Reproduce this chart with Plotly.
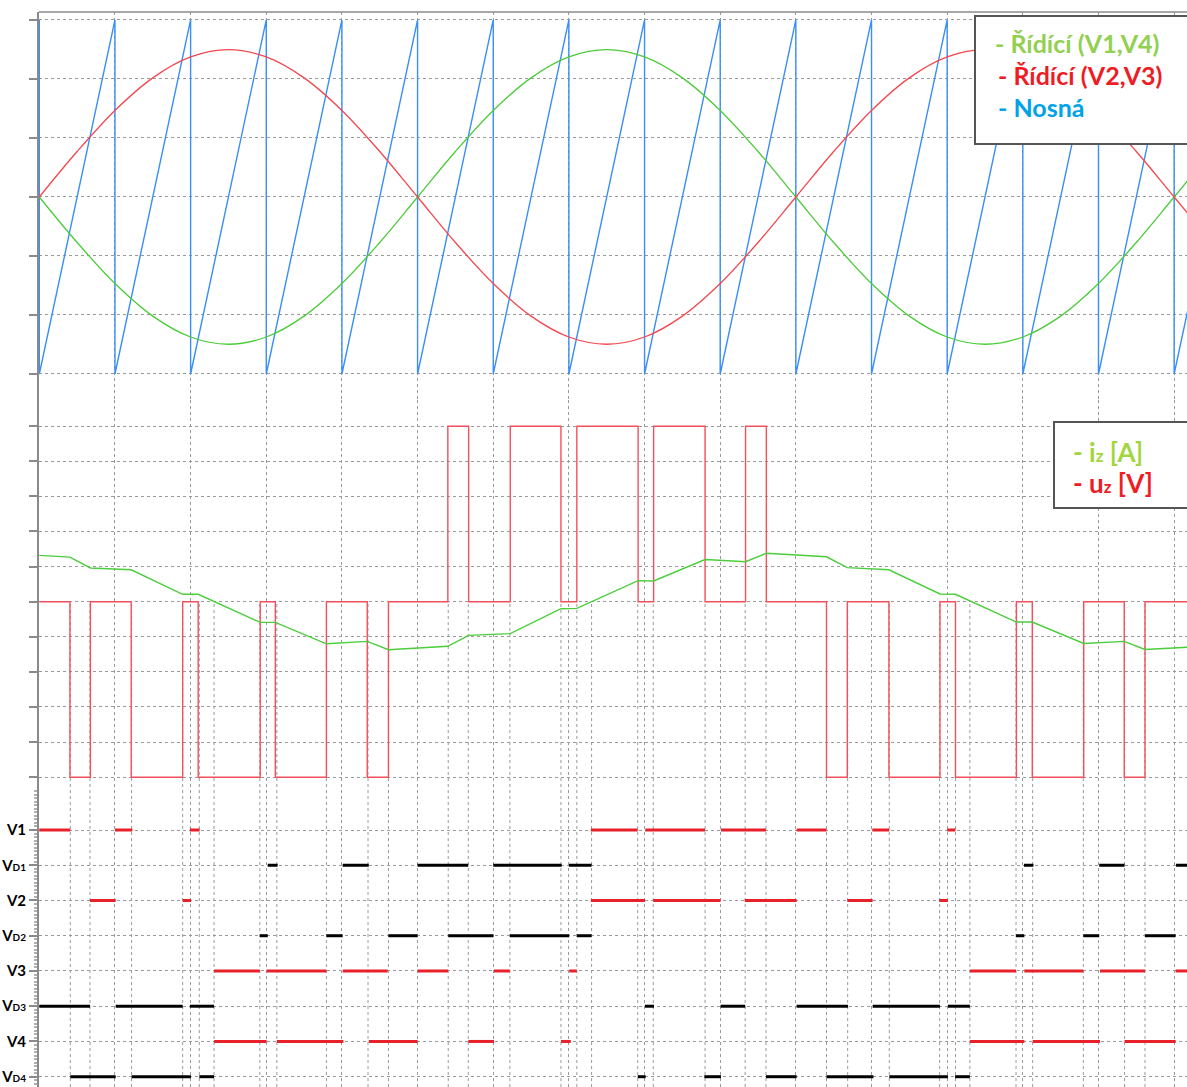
import plotly.graph_objects as go

# ---------------- data (time in ms) ----------------
# control (modulating) signals, sampled every 1 ms
t_ctrl = [0, 1, 2, 3, 4, 5, 6, 7, 8, 9, 10, 11, 12, 13, 14, 15, 16, 17, 18, 19,
          20, 21, 22, 23, 24, 25, 26, 27, 28, 29, 30, 31]
ctrl_v23 = [0.0, 0.257, 0.489, 0.673, 0.791, 0.832, 0.791, 0.673, 0.489, 0.257,
            0.0, -0.257, -0.489, -0.673, -0.791, -0.832, -0.791, -0.673, -0.489, -0.257,
            0.0, 0.257, 0.489, 0.673, 0.791, 0.832, 0.791, 0.673, 0.489, 0.257,
            0.0, -0.257]
ctrl_v14 = [0.0, -0.257, -0.489, -0.673, -0.791, -0.832, -0.791, -0.673, -0.489, -0.257,
            0.0, 0.257, 0.489, 0.673, 0.791, 0.832, 0.791, 0.673, 0.489, 0.257,
            0.0, -0.257, -0.489, -0.673, -0.791, -0.832, -0.791, -0.673, -0.489, -0.257,
            0.0, 0.257]

# sawtooth carrier: resets every 2 ms
carrier_resets = [0, 2, 4, 6, 8, 10, 12, 14, 16, 18, 20, 22, 24, 26, 28, 30, 32]
carrier_low = -1.0
carrier_high = 1.0

# load voltage u_z (step levels after each switching instant)
uz_t = [0, 0.81, 1.35, 2.43, 3.79, 4.20, 5.84, 6.24, 7.59, 8.67, 9.23, 10.80, 11.35,
        12.45, 13.79, 14.21, 15.83, 16.24, 17.60, 18.67, 19.22, 20.81, 21.36, 22.46,
        23.81, 24.22, 25.83, 26.25, 27.61, 28.68, 29.23, 30.40]
uz_v = [0, -5, 0, -5, 0, -5, 0, -5, 0, -5, 0, 5, 0, 5, 0, 5, 0, 5, 0, 5, 0,
        -5, 0, -5, 0, -5, 0, -5, 0, -5, 0, 0]

# load current i_z
iz_t = [0, 0.81, 1.35, 2.43, 3.79, 4.20, 5.84, 6.24, 7.59, 8.67, 9.23, 10.80, 11.35,
        12.45, 13.79, 14.21, 15.83, 16.24, 17.60, 18.67, 19.22, 20.81, 21.36, 22.46,
        23.81, 24.22, 25.83, 26.25, 27.61, 28.68, 29.23, 30.34]
iz_v = [1.32, 1.27, 0.96, 0.91, 0.21, 0.21, -0.59, -0.59, -1.20, -1.13, -1.37, -1.27,
        -0.96, -0.91, -0.20, -0.19, 0.60, 0.59, 1.20, 1.14, 1.38, 1.28, 0.97, 0.91,
        0.22, 0.21, -0.58, -0.58, -1.19, -1.13, -1.36, -1.30]

# conduction intervals [start, end] of each switch / diode
v1_on = [[0, 0.82], [2.00, 2.46], [3.98, 4.24], [14.58, 15.82], [16.02, 17.60],
         [18.02, 19.21], [20.02, 20.81], [22.02, 22.47], [24.00, 24.22]]
vd1_on = [[6.04, 6.30], [8.02, 8.71], [10.00, 11.34], [12.00, 13.81], [14.00, 14.60],
          [26.03, 26.28], [28.02, 28.69], [30.05, 30.40]]
v2_on = [[1.34, 2.02], [3.79, 4.01], [14.58, 16.01], [16.23, 18.01], [18.65, 20.02],
         [21.36, 22.03], [23.79, 24.02]]
vd2_on = [[5.83, 6.04], [7.59, 8.02], [9.23, 10.00], [10.81, 12.00], [12.44, 14.01],
          [14.21, 14.60], [25.82, 26.04], [27.60, 28.02], [29.23, 30.04]]
v3_on = [[4.62, 5.83], [6.01, 7.59], [8.02, 9.21], [10.00, 10.81], [12.02, 12.44],
         [14.01, 14.21], [24.60, 25.82], [26.04, 27.60], [28.04, 29.23], [30.04, 30.40]]
vd3_on = [[0, 1.34], [2.02, 3.79], [3.98, 4.62], [16.01, 16.25], [18.01, 18.66],
          [20.02, 21.38], [22.03, 23.81], [24.02, 24.60]]
v4_on = [[4.62, 6.01], [6.28, 8.04], [8.71, 10.00], [11.34, 12.02], [13.79, 14.05],
         [24.60, 26.04], [26.26, 28.04], [28.69, 30.04]]
vd4_on = [[0.82, 2.02], [2.44, 4.01], [4.23, 4.62], [15.82, 16.03], [17.58, 18.02],
          [19.21, 20.02], [20.81, 22.05], [22.47, 24.02], [24.21, 24.60]]

SMALL = '<span style="font-size:10px">'
row_labels = ["<b>V1</b>", f"<b>V{SMALL}D1</span></b>", "<b>V2</b>",
              f"<b>V{SMALL}D2</span></b>", "<b>V3</b>", f"<b>V{SMALL}D3</span></b>",
              "<b>V4</b>", f"<b>V{SMALL}D4</span></b>"]
row_levels = [8, 7, 6, 5, 4, 3, 2, 1]

# switching instants marked in the lower panels
switch_times = [0.82, 1.34, 2.44, 3.79, 4.23, 4.62, 5.83, 6.28, 7.59, 8.69, 9.23,
                10.81, 11.34, 12.44, 13.79, 14.21, 14.60, 15.82, 16.23, 17.60, 18.66,
                19.21, 20.81, 21.37, 22.47, 23.80, 24.22, 24.60, 25.82, 26.26, 27.60,
                28.69, 29.23]

# ---------------- styling ----------------
W, H = 1187, 1087
ML, MT = 39, 12
PW, PH = W - ML, H - MT
GRID = "#9a9a9a"
AXIS = "#8a8a8a"
X_RANGE = [-0.008, 30.34]


def px_x(px):
    return (px - ML) / PW


def px_y(py):
    return (H - py) / PH


fig = go.Figure()

# top panel: carrier + control signals
car_x, car_y = [], []
for r in carrier_resets:
    car_x += [r, r]
    car_y += [carrier_high, carrier_low]

fig.add_trace(go.Scatter(x=car_x, y=car_y, mode="lines", xaxis="x", yaxis="y",
                         line=dict(color="#3a8ef6", width=1.4), hoverinfo="skip"))
fig.add_trace(go.Scatter(x=t_ctrl, y=ctrl_v14, mode="lines", xaxis="x", yaxis="y",
                         line=dict(color="#4ccb3a", width=1.3, shape="spline"),
                         hoverinfo="skip"))
fig.add_trace(go.Scatter(x=t_ctrl, y=ctrl_v23, mode="lines", xaxis="x", yaxis="y",
                         line=dict(color="#f2474f", width=1.3, shape="spline"),
                         hoverinfo="skip"))

# middle panel: load voltage and current
fig.add_trace(go.Scatter(x=uz_t, y=uz_v, mode="lines", xaxis="x2", yaxis="y2",
                         line=dict(color="#f2505c", width=1.4, shape="hv"),
                         hoverinfo="skip"))
fig.add_trace(go.Scatter(x=iz_t, y=iz_v, mode="lines", xaxis="x2", yaxis="y2",
                         line=dict(color="#4ccd3c", width=1.4), hoverinfo="skip"))

# bottom panel: conduction intervals
rows = [(v1_on, "#e8202a"), (vd1_on, "#000000"), (v2_on, "#e8202a"), (vd2_on, "#000000"),
        (v3_on, "#e8202a"), (vd3_on, "#000000"), (v4_on, "#e8202a"), (vd4_on, "#000000")]
for (intervals, color), level in zip(rows, row_levels):
    xs, ys = [], []
    for a, b in intervals:
        xs += [a, b, None]
        ys += [level, level, None]
    fig.add_trace(go.Scatter(x=xs, y=ys, mode="lines", xaxis="x3", yaxis="y3",
                             line=dict(color=color, width=3), hoverinfo="skip"))

# vertical markers at switching instants (from u_z = 0 level downwards)
shapes = []
y_zero_mid = px_y(601.7)
for ts in switch_times:
    shapes.append(dict(type="line", xref="x3", yref="paper", x0=ts, x1=ts,
                       y0=0, y1=y_zero_mid, layer="below",
                       line=dict(color=GRID, width=1, dash="dot")))

# top frame line
shapes.append(dict(type="line", xref="paper", yref="paper", x0=0, x1=1, y0=1, y1=1,
                   line=dict(color=AXIS, width=1.5), layer="above"))

# legend boxes
shapes.append(dict(type="rect", xref="paper", yref="paper",
                   x0=px_x(975), x1=px_x(1190), y0=px_y(144), y1=px_y(16),
                   fillcolor="white", line=dict(color="#555555", width=2), layer="above"))
shapes.append(dict(type="rect", xref="paper", yref="paper",
                   x0=px_x(1054), x1=px_x(1190), y0=px_y(508), y1=px_y(422),
                   fillcolor="white", line=dict(color="#555555", width=2), layer="above"))

LEG_FONT = "Lato, 'Open Sans', sans-serif"
SUBZ = '<span style="font-size:17px">z</span>'
annotations = [
    dict(text="<b>- Řídící (V1,V4)</b>", x=px_x(993), y=px_y(43), color="#92d050", size=25),
    dict(text="<b>- Řídící (V2,V3)</b>", x=px_x(996), y=px_y(75), color="#ee1c25", size=25),
    dict(text="<b>- Nosná</b>", x=px_x(996), y=px_y(107), color="#00a2e8", size=25),
    dict(text=f"<b>- i{SUBZ} [A]</b>", x=px_x(1071), y=px_y(452), color="#a2d63c", size=26),
    dict(text=f"<b>- u{SUBZ} [V]</b>", x=px_x(1071), y=px_y(483), color="#ee1c25", size=26),
]
ann = []
for a in annotations:
    ann.append(dict(text=a["text"], x=a["x"], y=a["y"], xref="paper", yref="paper",
                    xanchor="left", yanchor="middle", showarrow=False,
                    font=dict(family=LEG_FONT, size=a["size"], color=a["color"])))

xaxis_common = dict(range=X_RANGE, showgrid=True, gridcolor=GRID, griddash="dot",
                    gridwidth=1, tick0=0, dtick=2, showticklabels=False, ticks="",
                    zeroline=False, showline=False, automargin=False, fixedrange=True)
yaxis_common = dict(showgrid=True, gridcolor=GRID, griddash="dot", gridwidth=1,
                    ticks="outside", ticklen=8, tickcolor=AXIS, tickwidth=1.5,
                    showline=True, linecolor=AXIS, linewidth=2, zeroline=False,
                    automargin=False, fixedrange=True)

fig.update_layout(
    width=W, height=H,
    margin=dict(l=ML, r=0, t=MT, b=0, pad=0),
    template="none",
    paper_bgcolor="white", plot_bgcolor="white",
    showlegend=False,
    xaxis=dict(domain=[0, 1], anchor="y", **xaxis_common),
    xaxis2=dict(domain=[0, 1], anchor="y2", matches="x", **xaxis_common),
    xaxis3=dict(domain=[0, 1], anchor="y3", matches="x", **xaxis_common),
    yaxis=dict(domain=[px_y(400), 1], anchor="x", range=[-1.147, 1.045],
               tickvals=[-1, -0.6667, -0.3333, 0, 0.3333, 0.6667, 1],
               showticklabels=False, **yaxis_common),
    yaxis2=dict(domain=[px_y(790), px_y(400)], anchor="x2", range=[-5.365, 5.746],
                tickvals=[-5, -4, -3, -2, -1, 0, 1, 2, 3, 4, 5],
                showticklabels=False, **yaxis_common),
    yaxis3=dict(domain=[0, px_y(790)], anchor="x3", range=[0.708, 9.135],
                tickvals=row_levels, ticktext=row_labels,
                tickfont=dict(family=LEG_FONT, size=15, color="black"),
                minor=dict(ticks="outside", ticklen=3, tickcolor="#b0b0b0", dtick=0.1,
                           showgrid=False),
                **yaxis_common),
    shapes=shapes,
    annotations=ann,
)

fig.write_html("out.html")
